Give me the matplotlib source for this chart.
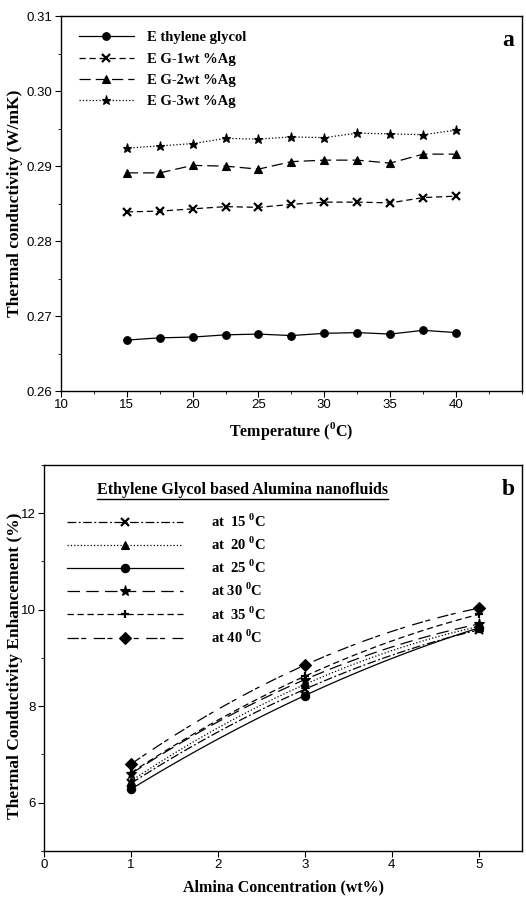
import numpy as np
import matplotlib
matplotlib.use('Agg')
import matplotlib.pyplot as plt
from matplotlib.ticker import MultipleLocator

plt.rcParams['font.family'] = ['Liberation Sans', 'DejaVu Sans']
plt.rcParams['mathtext.fontset'] = 'custom'
plt.rcParams['mathtext.rm'] = 'Liberation Serif:bold'
plt.rcParams['mathtext.bf'] = 'Liberation Serif:bold'

# (a) thermal conductivity vs temperature
temp = [15, 17.5, 20, 22.5, 25, 27.5, 30, 32.5, 35, 37.5, 40]
eg = [0.2668, 0.2671, 0.2672, 0.2675, 0.2676, 0.2674, 0.2677, 0.2678, 0.2676, 0.2681, 0.2678]
eg_1ag = [0.2839, 0.2840, 0.2843, 0.2846, 0.2845, 0.2849, 0.2852, 0.2852, 0.2851, 0.2858, 0.2860]
eg_2ag = [0.2891, 0.2891, 0.2901, 0.2900, 0.2896, 0.2906, 0.2908, 0.2908, 0.2904, 0.2916, 0.2916]
eg_3ag = [0.2924, 0.2927, 0.2930, 0.2937, 0.2936, 0.2939, 0.2938, 0.2944, 0.2943, 0.2942, 0.2948]
labels_a = ['E thylene glycol', 'E G-1wt %Ag', 'E G-2wt %Ag', 'E G-3wt %Ag']

# (b) enhancement vs alumina concentration
conc = [1, 3, 5]
enh_15 = [6.40, 8.35, 9.58]
enh_20 = [6.45, 8.45, 9.65]
enh_25 = [6.28, 8.22, 9.62]
enh_30 = [6.60, 8.55, 9.70]
enh_35 = [6.62, 8.62, 9.90]
enh_40 = [6.80, 8.85, 10.03]
labels_b = ['at  15', 'at  20', 'at  25', 'at 30', 'at  35', 'at 40']

serif_b = dict(family='Liberation Serif', weight='bold')

fig = plt.figure(figsize=(5.26, 8.99), dpi=100)

#1. panel a
ax1 = fig.add_axes([0.116, 0.565, 0.876, 0.417])
styles_a = [('-', 'o', 5.5), ((0, (5, 3)), 'x', 5.5), ((0, (9, 4)), '^', 5.5), (':', '*', 6.5)]
series_a = [eg, eg_1ag, eg_2ag, eg_3ag]
for s, (ls, mk, ms), lab in zip(series_a, styles_a, labels_a):
    ax1.plot(temp, s, color='black', linestyle=ls, marker=mk, markersize=ms,
             linewidth=0.9, markeredgewidth=1.6 if mk == 'x' else 0.8, label=lab)
ax1.set_xlim(10, 45)
ax1.set_ylim(0.26, 0.31)
ax1.xaxis.set_major_locator(MultipleLocator(5))
ax1.xaxis.set_minor_locator(MultipleLocator(2.5))
ax1.yaxis.set_major_locator(MultipleLocator(0.01))
ax1.yaxis.set_minor_locator(MultipleLocator(0.005))
ax1.set_xticks([10, 15, 20, 25, 30, 35, 40])
ax1.set_yticklabels(['%.2f' % v for v in ax1.get_yticks()])
ax1.set_xlabel(r'Temperature ($^\mathbf{0}$C)', fontsize=11.5, labelpad=6, **serif_b)
ax1.set_ylabel('Thermal conductivity (W/mK)', fontsize=12.5, **serif_b)
ax1.yaxis.set_label_coords(-0.083, 0.5)
leg1 = ax1.legend(loc='upper left', bbox_to_anchor=(0.01, 0.995), frameon=False,
                  handlelength=3.8, handletextpad=0.9, labelspacing=0.55,
                  prop=dict(family='Liberation Serif', weight='bold', size=10.5))
ax1.text(0.97, 0.935, 'a', transform=ax1.transAxes, ha='center', va='center',
         fontsize=17, **serif_b)

#2. panel b
ax2 = fig.add_axes([0.0837, 0.0534, 0.909, 0.4296])
styles_b = [((0, (7, 2, 1.5, 2)), 'x', 6), (':', '^', 6), ('-', 'o', 6),
            ((0, (10, 5)), '*', 8), ((0, (5, 3)), '+', 6), ((0, (9, 2, 4, 6)), 'D', 6)]
series_b = [enh_15, enh_20, enh_25, enh_30, enh_35, enh_40]
xs = np.linspace(conc[0], conc[-1], 60)
for s, (ls, mk, ms), lab in zip(series_b, styles_b, labels_b):
    # smooth curve through the 3 points
    coef = np.polyfit(conc, s, 2)
    ax2.plot(xs, np.polyval(coef, xs), color='black', linestyle=ls, linewidth=0.9)
    ax2.plot(conc, s, color='black', linestyle='none', marker=mk, markersize=ms,
             markeredgewidth=1.6 if mk in ('x', '+') else 0.8)
    ax2.plot([], [], color='black', linestyle=ls, marker=mk, markersize=ms, linewidth=0.9,
             markeredgewidth=1.6 if mk in ('x', '+') else 0.8,
             label=lab + r' $^\mathbf{0}$C')
ax2.set_xlim(0, 5.5)
ax2.set_ylim(5, 13)
ax2.set_xticks([0, 1, 2, 3, 4, 5])
ax2.yaxis.set_major_locator(MultipleLocator(2))
ax2.yaxis.set_minor_locator(MultipleLocator(1))
ax2.set_yticks([6, 8, 10, 12])
ax2.set_xlabel('Almina Concentration (wt%)', fontsize=11.5, labelpad=6, **serif_b)
ax2.set_ylabel('Thermal Conductivity Enhancement (%)', fontsize=12.5, **serif_b)
ax2.yaxis.set_label_coords(-0.045, 0.48)
leg2 = ax2.legend(loc='upper left', bbox_to_anchor=(0.02, 0.91), frameon=False,
                  handlelength=8.0, handletextpad=1.9, labelspacing=0.4,
                  prop=dict(family='Liberation Serif', weight='bold', size=10.5))
title_b = ax2.text(0.415, 0.935, 'Ethylene Glycol based Alumina nanofluids',
                   transform=ax2.transAxes, ha='center', va='center', fontsize=11.5, **serif_b)
ax2.text(0.97, 0.935, 'b', transform=ax2.transAxes, ha='center', va='center',
         fontsize=17, **serif_b)

for ax in (ax1, ax2):
    ax.tick_params(which='both', direction='out', top=False, right=False, labelsize=9.5)
    ax.tick_params(which='major', length=4, pad=2)
    ax.tick_params(which='minor', length=2.5)
    for sp in ax.spines.values():
        sp.set_linewidth(1.0)

# underline for the legend title
fig.canvas.draw()
bb = title_b.get_window_extent().transformed(ax2.transAxes.inverted())
ax2.plot([bb.x0, bb.x1], [bb.y0 - 0.004, bb.y0 - 0.004], color='black', linewidth=1.0,
         transform=ax2.transAxes, clip_on=False)

plt.savefig('out.png', dpi=100)
